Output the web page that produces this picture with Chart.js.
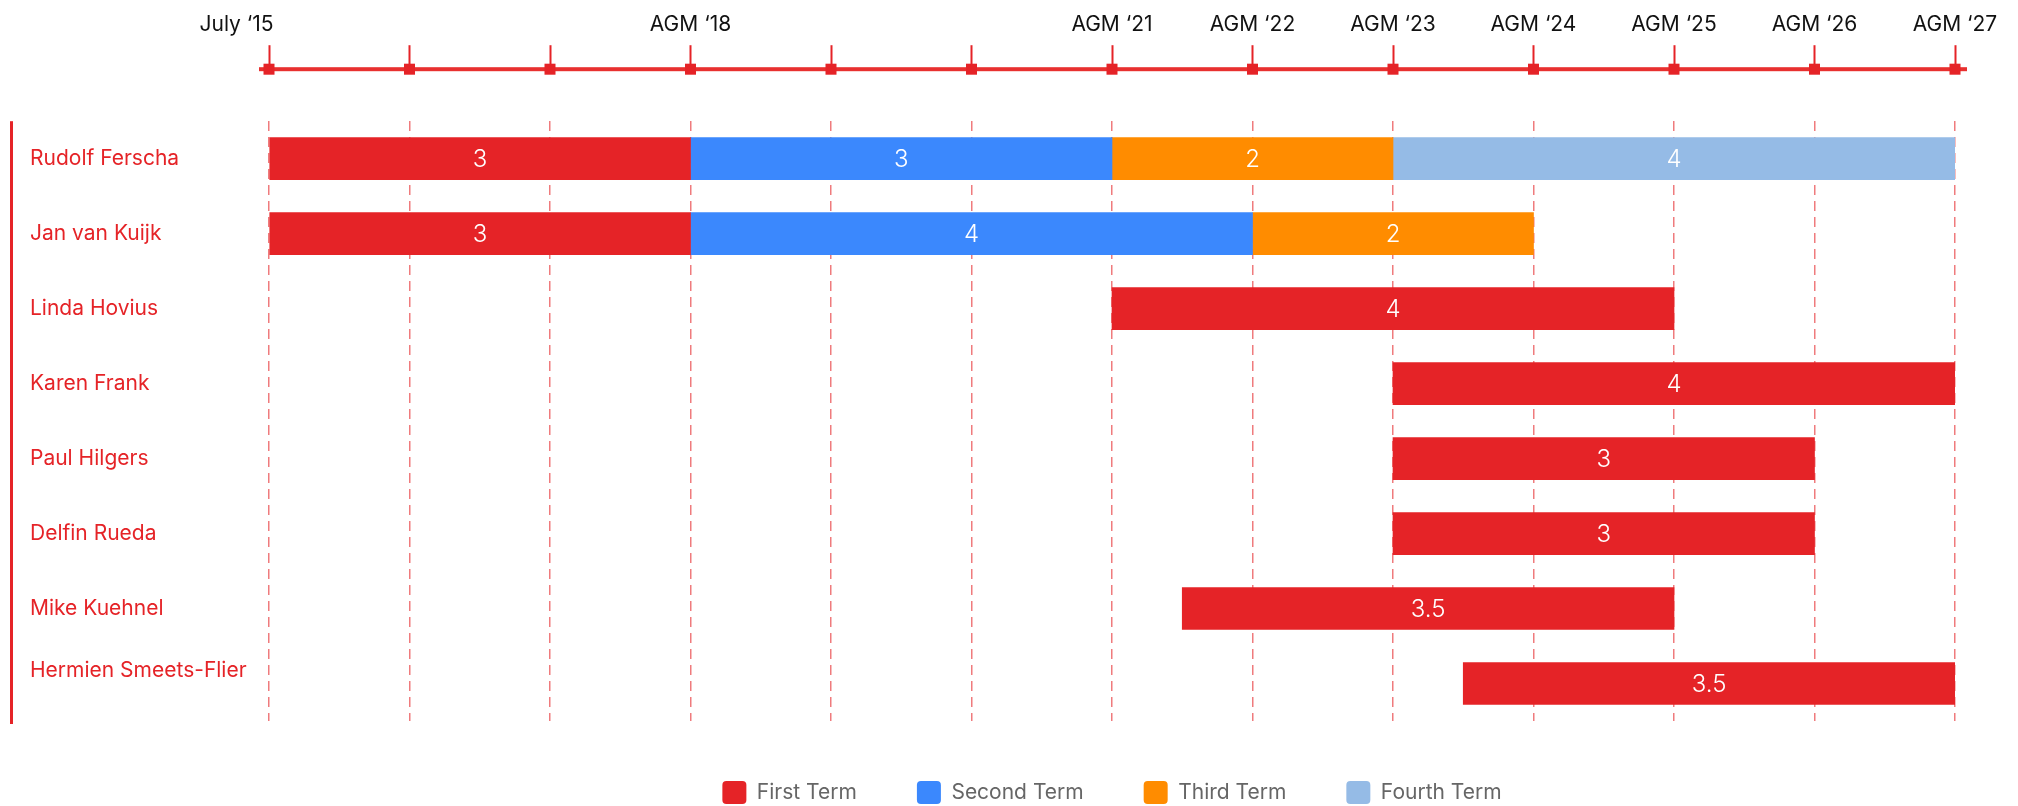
<!DOCTYPE html>
<html>
<head>
<meta charset="utf-8">
<title>Board terms</title>
<script src="https://cdn.jsdelivr.net/npm/chart.js@4.4.1/dist/chart.umd.min.js"></script>
<style>
  body { margin: 0; background: #fff; }
  #wrap { width: 2018px; height: 806px; }
</style>
</head>
<body>
<div id="wrap"><canvas id="terms"></canvas></div>
<script>
// board members, last label wraps onto 2 lines in the original
var members = ['Rudolf Ferscha', 'Jan van Kuijk', 'Linda Hovius', 'Karen Frank',
  'Paul Hilgers', 'Delfin Rueda', 'Mike Kuehnel', ['Hermien Smeets-Flier', '']];

// years since July '15, [start, end] of each term
var firstTerm = [[0, 3], [0, 3], [6, 10], [8, 12], [8, 11], [8, 11], [6.5, 10], [8.5, 12]];
var secondTerm = [[3, 6], [3, 7], null, null, null, null, null, null];
var thirdTerm = [[6, 8], [7, 9], null, null, null, null, null, null];
var fourthTerm = [[8, 12], null, null, null, null, null, null, null];

// one label per year on the timeline
var timeLabels = ['July \u201815' + '\u00a0'.repeat(11), '', '', 'AGM \u201818', '', '', 'AGM \u201821',
  'AGM \u201822', 'AGM \u201823', 'AGM \u201824', 'AGM \u201825', 'AGM \u201826', 'AGM \u201827'];

var RED = '#e52327';
var FONT = 'Inter, "Open Sans", sans-serif';

//draws the left line, the squares on the timeline and the term length on each bar
var decorations = {
  id: 'decorations',
  afterDraw: function (chart) {
    var ctx = chart.ctx;
    var area = chart.chartArea;
    var top = chart.scales.x2;
    ctx.save();
    // left rule
    ctx.fillStyle = RED;
    ctx.fillRect(chart.scales.y.left - 20, area.top, 3, area.bottom - area.top + 3);
    // timeline line, a bit longer than the axis
    ctx.fillStyle = '#e8302f';
    ctx.fillRect(top.left - 10, top.bottom - 2, top.right - top.left + 22, 4);
    ctx.fillStyle = RED;
    for (var i = 0; i < top.ticks.length; i++) {
      var px = top.getPixelForValue(top.ticks[i].value);
      ctx.fillRect(px - 5.5, top.bottom - 5.5, 11, 11);
    }
    // term lengths
    ctx.fillStyle = '#fff';
    ctx.font = '300 24px ' + FONT;
    ctx.textAlign = 'center';
    ctx.textBaseline = 'middle';
    chart.data.datasets.forEach(function (ds, d) {
      var meta = chart.getDatasetMeta(d);
      meta.data.forEach(function (bar, j) {
        var v = ds.data[j];
        if (!v) return;
        var c = bar.getCenterPoint();
        ctx.fillText(String(v[1] - v[0]), c.x, c.y + 1);
      });
    });
    ctx.restore();
  }
};

new Chart(document.getElementById('terms'), {
  type: 'bar',
  data: {
    labels: members,
    datasets: [
      { label: 'First Term', data: firstTerm, backgroundColor: '#e52327' },
      { label: 'Second Term', data: secondTerm, backgroundColor: '#3b88fd' },
      { label: 'Third Term', data: thirdTerm, backgroundColor: '#ff8c00' },
      { label: 'Fourth Term', data: fourthTerm, backgroundColor: '#95bbe6' }
    ]
  },
  options: {
    indexAxis: 'y',
    responsive: true,
    maintainAspectRatio: false,
    animation: false,
    barThickness: 42,
    borderWidth: 0,
    borderSkipped: false,
    layout: { padding: { top: 4, right: 63, bottom: -8, left: 30 } },
    scales: {
      x: {
        type: 'linear',
        position: 'top',
        weight: 0,
        min: 0,
        max: 12,
        stacked: false,
        ticks: { display: false, stepSize: 1 },
        grid: { color: 'rgba(229,35,39,0.6)', lineWidth: 1.5, drawTicks: true, tickLength: 52, tickColor: 'rgba(0,0,0,0)' },
        border: { display: false, dash: [10, 6] }
      },
      x2: {
        type: 'linear',
        position: 'top',
        weight: 1,
        min: 0,
        max: 12,
        ticks: {
          stepSize: 1,
          autoSkip: false,
          maxRotation: 0,
          padding: 8,
          color: '#111',
          font: { family: FONT, size: 21 },
          callback: function (value) { return timeLabels[value]; }
        },
        grid: { drawOnChartArea: false, tickLength: 24, tickColor: RED, tickWidth: 2 },
        border: { display: false }
      },
      y: {
        stacked: true,
        grid: { display: false },
        border: { display: false },
        ticks: { crossAlign: 'far', color: RED, font: { family: FONT, size: 21 } },
        afterFit: function (scale) { scale.width = 239; }
      }
    },
    plugins: {
      legend: {
        position: 'bottom',
        fullSize: false,
        labels: {
          boxWidth: 24,
          boxHeight: 23,
          useBorderRadius: true,
          borderRadius: 4,
          padding: 60,
          color: '#666',
          font: { family: FONT, size: 21 }
        }
      },
      tooltip: { enabled: false }
    }
  },
  plugins: [decorations]
});
</script>
</body>
</html>
